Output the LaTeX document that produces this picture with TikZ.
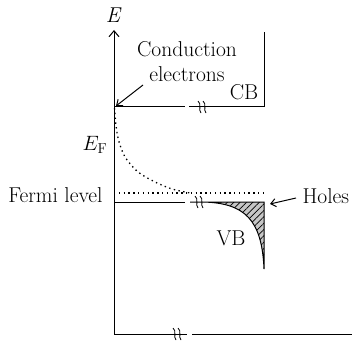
\documentclass[tikz,border=0pt]{standalone}
\usetikzlibrary{arrows.meta,patterns.meta}
\begin{document}
\begin{tikzpicture}[x=1pt,y=-1pt,line width=1pt,
  lbl/.style={font=\fontsize{21.5}{25}\selectfont, inner sep=0pt},
  ptr/.style={-{Straight Barb[length=5pt,width=8pt]}, line width=1pt},
  dotline/.style={dash pattern=on 1.4pt off 3.4pt, line width=1.3pt},
  brk/.pic={
    \draw[line width=0.8pt] (-4,-6) .. controls (0,-3) and (-4,3) .. (-1,6);
    \draw[line width=0.8pt] (1,-6) .. controls (5,-3) and (1,3) .. (4,6);
  }]
\useasboundingbox (0,0) rectangle (352,347);
% axes
\coordinate (o) at (114,334);
\coordinate (top) at (114,30);
\draw[-{Straight Barb[length=6pt,width=10pt]}] (o) -- (top);
\coordinate (b1) at (187,334);
\coordinate (b2) at (192,334);
\coordinate (bend) at (352,334);
\draw (o) -- (b1);
\draw (b2) -- (bend);
\pic at (177,334) {brk};
\node[lbl, font=\fontsize{21.5}{25}\selectfont\itshape] (E) at (113,15) {E};
% conduction band
\coordinate (cb0) at (114,107);
\coordinate (cb1) at (185,107);
\coordinate (cb2) at (189,107);
\coordinate (cb3) at (264,107);
\coordinate (cbt) at (264,32);
\draw (cb0) -- (cb1);
\draw (cb2) -- (cb3) -- (cbt);
\pic at (202,107) {brk};
\node[lbl] (CB) at (244,92) {CB};
\node[lbl, align=center] (ce) at (187,62) {Conduction\\electrons};
\coordinate (cea) at (143,85);
\coordinate (ceb) at (116,106);
\draw[ptr] (cea) -- (ceb);
% Fermi
\node[lbl] (EF) at (95,145) {$E_{\mathrm{F}}$};
\coordinate (f0) at (114,193);
\coordinate (f1) at (264,193);
\draw[dotline] (f0) -- (f1);
\draw[dotline] plot[smooth] coordinates {(114.5,108) (116,125) (118.5,140) (125,157) (138,172) (155,182) (172,189) (190,193)};
\node[lbl, anchor=base east] (fl) at (103,202) {Fermi level};
% valence band
\coordinate (v0) at (114,202);
\coordinate (v1) at (185,202);
\coordinate (v2) at (190,202);
\coordinate (vs) at (203,202);
\coordinate (vt) at (264,202);
\coordinate (vb) at (264,269);
\fill[gray!45] (vs) .. controls (245,203) and (262,220) .. (vb) -- (vt) -- cycle;
\fill[pattern={Lines[angle=45,distance=4.5pt,line width=0.7pt]}] (vs) .. controls (245,203) and (262,220) .. (vb) -- (vt) -- cycle;
\draw (v0) -- (v1);
\draw (v2) -- (vs) .. controls (245,203) and (262,220) .. (vb) -- (vt) -- (vs);
\pic at (199,202) {brk};
\node[lbl, anchor=base] (VB) at (231,245) {VB};
\node[lbl, anchor=base west] (holes) at (302,203) {Holes};
\coordinate (ha) at (296,198);
\coordinate (hb) at (270,204);
\draw[ptr] (ha) -- (hb);
\end{tikzpicture}
\end{document}
